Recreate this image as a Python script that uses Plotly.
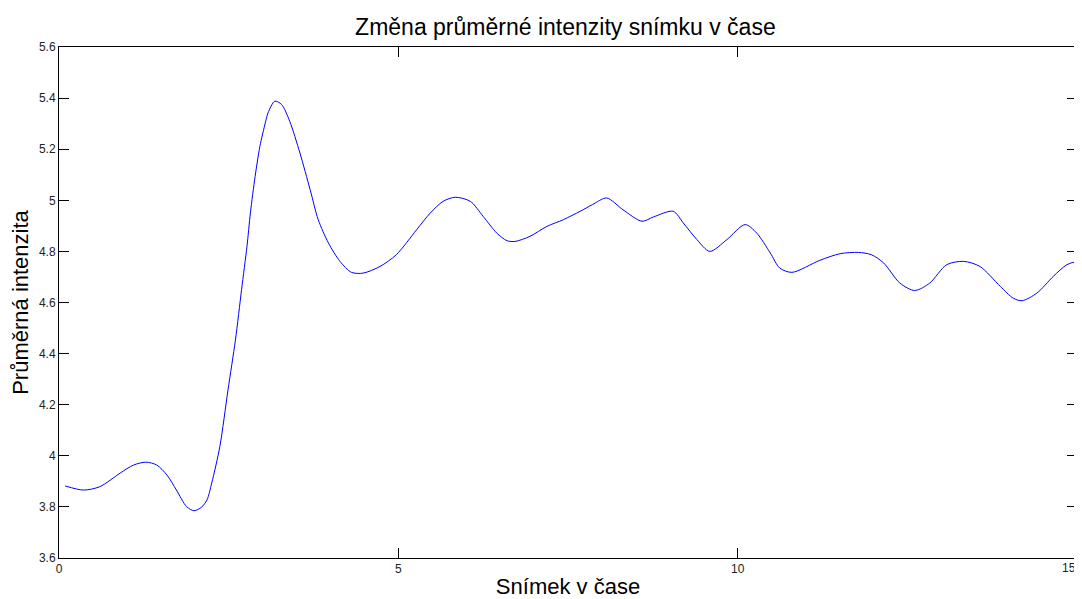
import plotly.graph_objects as go

# hodnoty (pixely prevedeny na data)
snimek = [0.09, 0.36, 0.60, 0.90, 1.10, 1.28, 1.44, 1.59, 1.73, 1.88, 1.99, 2.10,
          2.18, 2.25, 2.37, 2.49, 2.60, 2.69, 2.77, 2.82, 2.89, 2.96, 3.04, 3.08,
          3.18, 3.28, 3.40, 3.55, 3.70, 3.82, 3.97, 4.14, 4.31, 4.48, 4.73, 4.97,
          5.27, 5.47, 5.66, 5.84, 6.06, 6.25, 6.45, 6.60, 6.72, 6.94, 7.19, 7.43,
          7.68, 7.86, 8.07, 8.31, 8.59, 8.76, 9.05, 9.20, 9.40, 9.59, 9.84, 10.11,
          10.28, 10.48, 10.62, 10.80, 11.21, 11.51, 11.78, 11.97, 12.15, 12.39,
          12.61, 12.83, 13.08, 13.33, 13.57, 13.87, 14.06, 14.19, 14.41, 14.65,
          14.85, 15.0]
intenzita = [3.882, 3.866, 3.879, 3.932, 3.964, 3.975, 3.964, 3.925, 3.866, 3.801,
             3.785, 3.799, 3.827, 3.893, 4.036, 4.258, 4.454, 4.65, 4.82, 4.95,
             5.094, 5.211, 5.303, 5.342, 5.388, 5.375, 5.309, 5.185, 5.042, 4.924,
             4.833, 4.761, 4.718, 4.715, 4.741, 4.787, 4.885, 4.950, 4.996, 5.012,
             4.996, 4.937, 4.872, 4.842, 4.839, 4.859, 4.898, 4.924, 4.957, 4.983,
             5.009, 4.963, 4.918, 4.935, 4.957, 4.911, 4.846, 4.800, 4.846, 4.905,
             4.872, 4.794, 4.735, 4.718, 4.765, 4.791, 4.796, 4.787, 4.755, 4.676,
             4.647, 4.676, 4.748, 4.761, 4.741, 4.663, 4.617, 4.607, 4.637, 4.702,
             4.748, 4.761]

y_ticks = [3.6, 3.8, 4, 4.2, 4.4, 4.6, 4.8, 5, 5.2, 5.4, 5.6]
y_labels = ["3.6", "3.8", "4", "4.2", "4.4", "4.6", "4.8", "5", "5.2", "5.4", "5.6"]
x_ticks = [0, 5, 10, 15]
x_labels = ["0", "5", "10", ""]
# posledni popisek je u praveho okraje, kresli se jako anotace zarovnana doprava
x_last = 15

fig = go.Figure()
fig.add_trace(go.Scatter(x=snimek, y=intenzita, mode="lines",
                         line=dict(color="#0000ff", width=1, shape="spline", smoothing=0.8),
                         showlegend=False))

axis_style = dict(showline=True, linecolor="black", linewidth=1, mirror="ticks",
                  ticks="inside", ticklen=10, tickcolor="black", showgrid=False,
                  zeroline=False, automargin=False,
                  tickfont=dict(size=12, color="#222"))

fig.update_xaxes(range=[0, 15], tickvals=x_ticks, ticktext=x_labels,
                 title=dict(text="Snímek v čase", font=dict(size=22, color="black"), standoff=5),
                 **axis_style)
fig.update_yaxes(range=[3.6, 5.6], tickvals=y_ticks, ticktext=y_labels,
                 title=dict(text="Průměrná intenzita", font=dict(size=22, color="black"), standoff=4),
                 **axis_style)

fig.add_annotation(x=x_last, y=0, xref="x", yref="paper", text=str(x_last),
                   showarrow=False, xanchor="right", yanchor="top", xshift=1, yshift=-1,
                   font=dict(size=12, color="#222"))

# stranka ma okraj 8 px, proto je obrazek o 8 px mensi
fig.update_layout(
    width=1074, height=591,
    margin=dict(l=51, r=5, t=39, b=41),
    paper_bgcolor="white", plot_bgcolor="white",
    font=dict(family="Liberation Sans, Arial, sans-serif"),
    title=dict(text="Změna průměrné intenzity snímku v čase", x=0.519, xanchor="center",
               y=0.968, yanchor="middle", font=dict(size=23, color="black")),
)

fig.write_html("out.html")
